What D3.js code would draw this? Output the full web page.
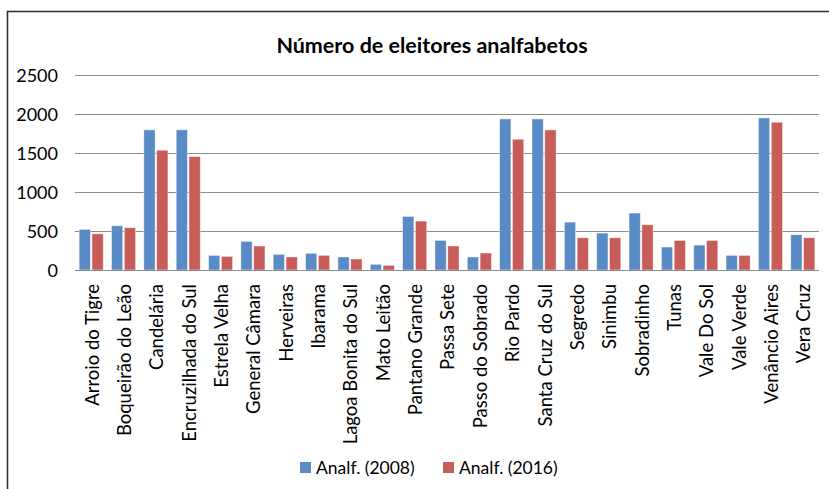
<!DOCTYPE html>
<html>
<head>
<meta charset="utf-8">
<script src="https://cdn.jsdelivr.net/npm/d3@7"></script>
<style>
  html, body { margin: 0; padding: 0; background: #fff; }
  svg { display: block; }
  text { font-family: Lato, "Open Sans", sans-serif; fill: #000; }
</style>
</head>
<body>
<svg id="chart" width="829" height="489"></svg>
<script>
(function(){
const categories = ["Arroio do Tigre","Boqueirão do Leão","Candelária","Encruzilhada do Sul","Estrela Velha","General Câmara","Herveiras","Ibarama","Lagoa Bonita do Sul","Mato Leitão","Pantano Grande","Passa Sete","Passo do Sobrado","Rio Pardo","Santa Cruz do Sul","Segredo","Sinimbu","Sobradinho","Tunas","Vale Do Sol","Vale Verde","Venâncio Aires","Vera Cruz"];
const analf2008 = [522,568,1800,1800,188,368,201,214,167,73,688,380,167,1940,1940,615,474,731,295,320,188,1953,453];
const analf2016 = [465,543,1538,1457,175,308,167,188,141,60,628,308,218,1679,1799,414,414,581,380,380,188,1897,414];
const seriesNames = ["Analf. (2008)","Analf. (2016)"];
const yTicks = [0,500,1000,1500,2000,2500];
const chartTitle = "Número de eleitores analfabetos";

const colors = ["#5B8BC6","#C75C59"];
const svg = d3.select("#chart");

svg.append("rect").attr("x",7.5).attr("y",11.5).attr("width",840).attr("height",500)
  .attr("fill","none").attr("stroke","#333").attr("stroke-width",1.6);

const pLeft = 75, pRight = 819, pTop = 75.3, pBottom = 270;
const x = d3.scaleBand().domain(categories).range([pLeft,pRight]).paddingInner(0.255).paddingOuter(0.128);
const x1 = d3.scaleBand().domain([0,1]).range([0,x.bandwidth()]).paddingInner(0.12);
const y = d3.scaleLinear().domain([0,2500]).range([pBottom,pTop]);

svg.append("g").selectAll("line").data(yTicks).join("line")
  .attr("x1",pLeft).attr("x2",pRight)
  .attr("y1",d=>Math.round(y(d))+0.5).attr("y2",d=>Math.round(y(d))+0.5)
  .attr("stroke","#8c8c8c").attr("stroke-width",1);

const yAxis = d3.axisLeft(y).tickValues(yTicks).tickFormat(d3.format("d")).tickSize(0).tickPadding(0);
const gy = svg.append("g").attr("transform",`translate(58,0)`).call(yAxis);
gy.select(".domain").remove();
gy.selectAll("text").style("font-size","18px").style("font-family","Lato, sans-serif").attr("fill","#000").attr("dy","0.35em");

const series = [analf2008, analf2016];
const groups = svg.append("g").selectAll("g").data(categories).join("g")
  .attr("transform",d=>`translate(${x(d)},0)`);
groups.selectAll("rect").data((d,i)=>series.map((s,k)=>({k, v:s[i]}))).join("rect")
  .attr("x",d=>x1(d.k)).attr("width",x1.bandwidth())
  .attr("y",d=>y(d.v)).attr("height",d=>pBottom - y(d.v))
  .attr("fill",d=>colors[d.k])
  .attr("stroke","rgba(255,255,255,0.55)").attr("stroke-width",0.8);

svg.append("line").attr("x1",pLeft).attr("x2",pRight).attr("y1",pBottom+0.5).attr("y2",pBottom+0.5)
  .attr("stroke","#8c8c8c").attr("stroke-width",1);

const xAxis = d3.axisBottom(x).tickSize(0).tickPadding(0);
const gx = svg.append("g").attr("transform",`translate(0,${pBottom})`).call(xAxis);
gx.select(".domain").remove();
gx.selectAll("text")
  .style("font-size","18.5px").style("font-family","Lato, sans-serif").attr("fill","#000")
  .attr("text-anchor","end").attr("dy","0.35em").attr("y",0).attr("x",0)
  .attr("transform","translate(1,14) rotate(-90)");

svg.append("text").attr("x",432).attr("y",53).attr("text-anchor","middle")
  .style("font-size","21.5px").style("font-weight","bold").text(chartTitle);

const legend = svg.append("g");
const legX = [300, 443];
seriesNames.forEach((name,k)=>{
  legend.append("rect").attr("x",legX[k]).attr("y",462).attr("width",11).attr("height",11).attr("fill",colors[k]);
  legend.append("text").attr("x",legX[k]+16).attr("y",474).style("font-size","17.5px").text(name);
});
})();
</script>
</body>
</html>
